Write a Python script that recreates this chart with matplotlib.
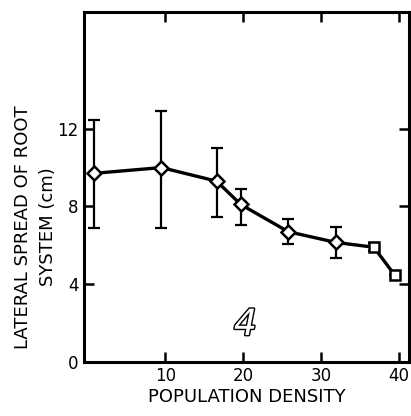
import matplotlib
matplotlib.use("Agg")
import matplotlib.pyplot as plt
import matplotlib.patheffects as pe

# population density and lateral spread of root system (cm)
density = [0.8, 9.5, 16.6, 19.7, 25.8, 31.9, 36.8, 39.5]
spread = [9.7, 10.0, 9.3, 8.1, 6.7, 6.15, 5.9, 4.45]
err_low = [2.8, 3.1, 1.85, 1.05, 0.65, 0.8, 0.2, 0.0]
err_high = [2.75, 2.9, 1.7, 0.8, 0.65, 0.8, 0.2, 0.0]
marker_kind = ["D", "D", "D", "D", "D", "D", "s", "s"]

yticks = [0, 4, 8, 12]
xticks = [10, 20, 30, 40]

fig = plt.figure(figsize=(4.11, 4.16), dpi=100)
ax = fig.add_axes([0.205, 0.13, 0.79, 0.841])

ax.errorbar(density, spread, yerr=[err_low, err_high], fmt="none",
            ecolor="black", elinewidth=1.6, capsize=4, capthick=1.6, zorder=2)
ax.plot(density, spread, color="black", lw=2.4, zorder=3)
for x, y, m in zip(density, spread, marker_kind):
    ax.plot(x, y, marker=m, ms=7.5 if m == "D" else 7, mfc="white", mec="black",
            mew=1.8, zorder=4)

ax.set_xlim(-0.4, 41.3)
ax.set_ylim(0, 18)
ax.set_xticks(xticks)
ax.set_yticks(yticks)
ax.tick_params(direction="in", length=7, width=1.8, labelsize=12,
               top=True, right=True, pad=4)
for s in ax.spines.values():
    s.set_linewidth(2.2)

ax.set_xlabel("POPULATION DENSITY", fontsize=13, labelpad=2)
fig.text(0.055, 0.455, "LATERAL SPREAD OF ROOT", rotation=90, fontsize=13,
         ha="center", va="center")
fig.text(0.118, 0.455, "SYSTEM (cm)", rotation=90, fontsize=13,
         ha="center", va="center")

t = ax.text(20.3, 1.9, "4", fontsize=26, color="white", style="italic",
            ha="center", va="center")
t.set_path_effects([pe.Stroke(linewidth=2, foreground="black"), pe.Normal()])

fig.savefig("out.png", dpi=100)
